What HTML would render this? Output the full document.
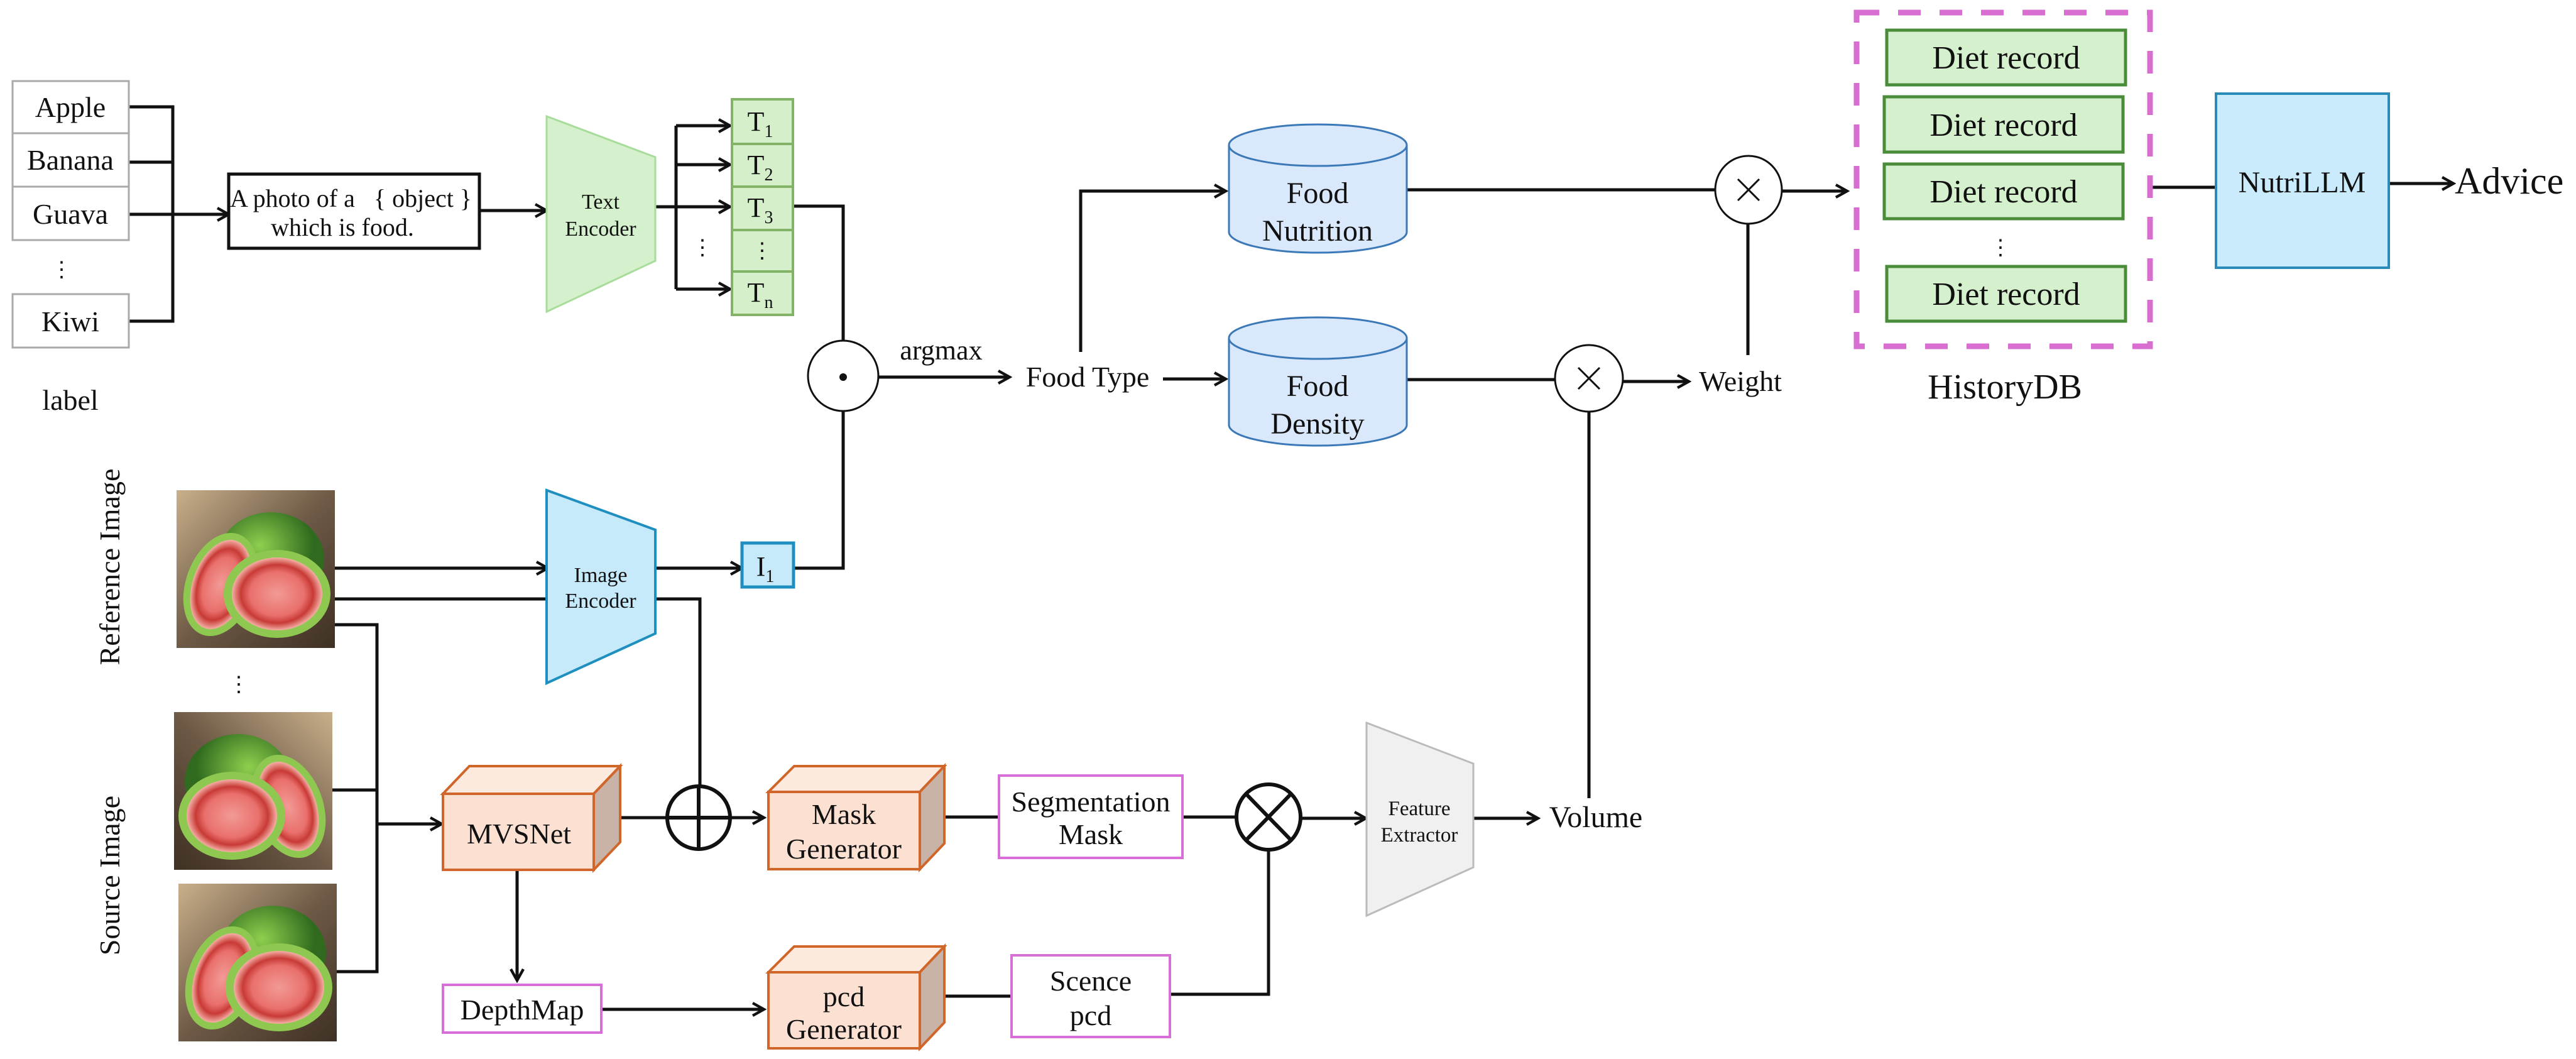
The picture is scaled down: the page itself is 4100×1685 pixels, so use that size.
<!DOCTYPE html>
<html><head><meta charset="utf-8"><style>
html,body{margin:0;padding:0;background:#fff}
svg{display:block;font-family:"Liberation Serif","DejaVu Serif",serif}
svg text{font-family:"Liberation Serif","DejaVu Serif",serif;fill:#111}
</style></head><body>
<svg width="4100" height="1685" viewBox="0 0 4100 1685" xmlns="http://www.w3.org/2000/svg" font-family="Liberation Serif, DejaVu Serif, serif">
<defs>
<marker id="a" viewBox="0 0 12 12" refX="10" refY="6" markerWidth="24" markerHeight="24" markerUnits="userSpaceOnUse" orient="auto">
<path d="M1,1 L10,6 L1,11" fill="none" stroke="#111" stroke-width="2.2"/>
</marker>
<linearGradient id="bg" x1="0" y1="0" x2="1" y2="1"><stop offset="0" stop-color="#c9b08c"/><stop offset="0.5" stop-color="#6e5a46"/><stop offset="1" stop-color="#3e3024"/></linearGradient>
<radialGradient id="pk"><stop offset="0" stop-color="#f29a96"/><stop offset="0.6" stop-color="#e9706c"/><stop offset="0.8" stop-color="#c83a36"/><stop offset="1" stop-color="#f4b0a6"/></radialGradient>
<radialGradient id="gr" cx="0.4" cy="0.35"><stop offset="0" stop-color="#8fcf4e"/><stop offset="1" stop-color="#2f6a1e"/></radialGradient>
<g id="guava">
<rect x="0" y="0" width="252" height="251" fill="url(#bg)"/>
<ellipse cx="150" cy="110" rx="85" ry="75" fill="url(#gr)"/>
<ellipse cx="70" cy="150" rx="55" ry="85" transform="rotate(20 70 150)" fill="#8fc850"/>
<ellipse cx="70" cy="150" rx="44" ry="74" transform="rotate(20 70 150)" fill="url(#pk)"/>
<ellipse cx="160" cy="165" rx="85" ry="70" fill="#8fc850"/>
<ellipse cx="160" cy="165" rx="72" ry="58" fill="url(#pk)"/>
</g>
</defs>

<g stroke="#111" stroke-width="5" fill="none">
<path d="M205,170 H275 V511 H205"/>
<path d="M205,258 H275"/>
<path d="M205,341 H364" marker-end="url(#a)"/>
<path d="M763,335 H870" marker-end="url(#a)"/>
<path d="M1043,329 H1076"/>
<path d="M1076,200 V460"/>
<path d="M1076,200 H1162" marker-end="url(#a)"/>
<path d="M1076,262 H1162" marker-end="url(#a)"/>
<path d="M1076,329 H1162" marker-end="url(#a)"/>
<path d="M1076,460 H1162" marker-end="url(#a)"/>
<path d="M1262,328 H1342 V542"/>
<path d="M1263,904 H1342 V654"/>
<path d="M1397,600 H1607" marker-end="url(#a)"/>
<path d="M1720,560 V304 H1951" marker-end="url(#a)"/>
<path d="M1851,603 H1951" marker-end="url(#a)"/>
<path d="M2239,302 H2730"/>
<path d="M2782,357 V565"/>
<path d="M2239,604 H2476"/>
<path d="M2583,607 H2688" marker-end="url(#a)"/>
<path d="M2529,655 V1270"/>
<path d="M2837,304 H2940" marker-end="url(#a)"/>
<path d="M3422,298 H3527"/>
<path d="M3802,292 H3905" marker-end="url(#a)"/>
<path d="M533,904 H872" marker-end="url(#a)"/>
<path d="M533,953 H870"/>
<path d="M1043,953 H1114 V1251"/>
<path d="M1043,904 H1181" marker-end="url(#a)"/>
<path d="M533,994 H600 V1546 H534"/>
<path d="M529,1257 H600"/>
<path d="M600,1311 H703" marker-end="url(#a)"/>
<path d="M987,1301 H1216" marker-end="url(#a)"/>
<path d="M823,1384 V1560" marker-end="url(#a)"/>
<path d="M957,1606 H1216" marker-end="url(#a)"/>
<path d="M1505,1300 H1590"/>
<path d="M1882,1300 H1968"/>
<path d="M2070,1302 H2174" marker-end="url(#a)"/>
<path d="M2345,1302 H2448" marker-end="url(#a)"/>
<path d="M1505,1585 H1610"/>
<path d="M1862,1582 H2019 V1352"/>
</g>

<g fill="#fff" stroke="#aaa" stroke-width="3">
<rect x="20" y="129" width="185" height="83"/>
<rect x="20" y="212" width="185" height="85"/>
<rect x="20" y="297" width="185" height="85"/>
<rect x="20" y="468" width="185" height="85"/>
</g>
<g font-size="46" text-anchor="middle">
<text x="112" y="186">Apple</text>
<text x="112" y="270">Banana</text>
<text x="112" y="356">Guava</text>
<text x="112" y="527">Kiwi</text>
<text x="112" y="652">label</text>
<text x="98" y="440" font-size="34">⋮</text>
</g>
<rect x="364" y="277" width="399" height="118" fill="#fff" stroke="#111" stroke-width="5"/>
<text x="366" y="329" font-size="40">A photo of a <tspan dx="20">{ object }</tspan></text>
<text x="545" y="375" font-size="40" text-anchor="middle">which is food.</text>

<polygon points="870,185 1043,250 1043,415 870,496" fill="#d5f0cc" stroke="#a8dc9a" stroke-width="3"/>
<text x="956" y="332" font-size="34" text-anchor="middle">Text</text>
<text x="956" y="375" font-size="34" text-anchor="middle">Encoder</text>
<g fill="#d5efcb" stroke="#82b366" stroke-width="4">
<rect x="1165" y="158" width="97" height="71"/>
<rect x="1165" y="229" width="97" height="68"/>
<rect x="1165" y="297" width="97" height="69"/>
<rect x="1165" y="366" width="97" height="66"/>
<rect x="1165" y="432" width="97" height="69"/>
</g>
<g font-size="44" text-anchor="middle">
<text x="1210" y="208">T<tspan font-size="28" dy="10">1</tspan></text>
<text x="1210" y="277">T<tspan font-size="28" dy="10">2</tspan></text>
<text x="1210" y="345">T<tspan font-size="28" dy="10">3</tspan></text>
<text x="1213" y="410" font-size="34">⋮</text>
<text x="1210" y="480">T<tspan font-size="28" dy="10">n</tspan></text>
<text x="1118" y="405" font-size="34">⋮</text>
</g>

<circle cx="1342" cy="598" r="56" fill="#fff" stroke="#111" stroke-width="3"/>
<circle cx="1342" cy="600" r="6" fill="#111"/>
<text x="1498" y="572" font-size="44" text-anchor="middle">argmax</text>
<text x="1731" y="615" font-size="46" text-anchor="middle">Food Type</text>

<g fill="#dae8fc" stroke="#3a78b8" stroke-width="3">
<path d="M1956,231 V369 A141.5,33 0 0 0 2239,369 V231"/>
<ellipse cx="2097.5" cy="231" rx="141.5" ry="33"/>
<path d="M1956,538 V676 A141.5,33 0 0 0 2239,676 V538"/>
<ellipse cx="2097.5" cy="538" rx="141.5" ry="33"/>
</g>
<g font-size="48" text-anchor="middle">
<text x="2097" y="323">Food</text>
<text x="2097" y="383">Nutrition</text>
<text x="2097" y="630">Food</text>
<text x="2097" y="690">Density</text>
</g>
<g fill="#fff" stroke="#111" stroke-width="3">
<ellipse cx="2783" cy="302" rx="53" ry="54"/>
<ellipse cx="2529" cy="602" rx="54" ry="53"/>
</g>
<g stroke="#111" stroke-width="3">
<path d="M2766,285 L2800,319 M2800,285 L2766,319"/>
<path d="M2512,585 L2546,619 M2546,585 L2512,619"/>
</g>
<text x="2770" y="622" font-size="46" text-anchor="middle">Weight</text>

<rect x="2955" y="20" width="467" height="531" fill="none" stroke="#d86fd0" stroke-width="9" stroke-dasharray="36,30"/>
<g fill="#d5f0cc" stroke="#4a8c3a" stroke-width="5">
<rect x="3003" y="48" width="380" height="87"/>
<rect x="2999" y="154" width="380" height="88"/>
<rect x="2999" y="261" width="380" height="87"/>
<rect x="3003" y="424" width="380" height="87"/>
</g>
<g font-size="52" text-anchor="middle">
<text x="3193" y="109">Diet record</text>
<text x="3189" y="216">Diet record</text>
<text x="3189" y="322">Diet record</text>
<text x="3184" y="405" font-size="34">⋮</text>
<text x="3193" y="485">Diet record</text>
<text x="3191" y="634" font-size="56">HistoryDB</text>
</g>
<rect x="3527" y="149" width="275" height="277" fill="#c9ebfb" stroke="#2a8ab8" stroke-width="4"/>
<text x="3664" y="306" font-size="48" text-anchor="middle">NutriLLM</text>
<text x="3907" y="308" font-size="60">Advice</text>

<use href="#guava" x="281" y="780"/>
<use href="#guava" x="279" y="1133" transform="translate(808 0) scale(-1 1)"/>
<use href="#guava" x="284" y="1406"/>
<text x="380" y="1100" font-size="34" text-anchor="middle">⋮</text>
<text font-size="46" text-anchor="middle" transform="translate(190 902) rotate(-90)">Reference Image</text>
<text font-size="46" text-anchor="middle" transform="translate(190 1393) rotate(-90)">Source Image</text>

<polygon points="870,780 1043,843 1043,1008 870,1087" fill="#c7eafa" stroke="#1f8fbf" stroke-width="4"/>
<text x="956" y="926" font-size="34" text-anchor="middle">Image</text>
<text x="956" y="967" font-size="34" text-anchor="middle">Encoder</text>
<rect x="1181" y="864" width="82" height="70" fill="#c7eafa" stroke="#1f8fbf" stroke-width="5"/>
<text x="1218" y="916" font-size="44" text-anchor="middle">I<tspan font-size="28" dy="10">1</tspan></text>

<g stroke="#d0662a" stroke-width="4">
<g>
<polygon points="705,1263 747,1219 987,1219 945,1263" fill="#fdeade"/>
<polygon points="945,1263 987,1219 987,1340 945,1384" fill="#c9b2a6"/>
<rect x="705" y="1263" width="240" height="121" fill="#fce0d2"/>
</g>
<g>
<polygon points="1223,1260 1264,1219 1503,1219 1464,1260" fill="#fdeade"/>
<polygon points="1464,1260 1503,1219 1503,1342 1464,1383" fill="#c9b2a6"/>
<rect x="1223" y="1260" width="241" height="123" fill="#fce0d2"/>
</g>
<g>
<polygon points="1223,1547 1264,1506 1503,1506 1464,1547" fill="#fdeade"/>
<polygon points="1464,1547 1503,1506 1503,1627 1464,1668" fill="#c9b2a6"/>
<rect x="1223" y="1547" width="241" height="121" fill="#fce0d2"/>
</g>
</g>
<g font-size="46" text-anchor="middle">
<text x="826" y="1342">MVSNet</text>
<text x="1343" y="1311">Mask</text>
<text x="1343" y="1366">Generator</text>
<text x="1343" y="1601">pcd</text>
<text x="1343" y="1653">Generator</text>
</g>
<circle cx="1112" cy="1301" r="50" fill="none" stroke="#111" stroke-width="6"/>
<path d="M1062,1301 H1162 M1112,1251 V1351" stroke="#111" stroke-width="6"/>

<g fill="#fff" stroke="#d86fd8" stroke-width="4">
<rect x="705" y="1567" width="252" height="76"/>
<rect x="1590" y="1234" width="292" height="131"/>
<rect x="1610" y="1520" width="252" height="130"/>
</g>
<g font-size="46" text-anchor="middle">
<text x="831" y="1622">DepthMap</text>
<text x="1736" y="1291">Segmentation</text>
<text x="1736" y="1343">Mask</text>
<text x="1736" y="1576">Scence</text>
<text x="1736" y="1631">pcd</text>
</g>
<ellipse cx="2019" cy="1300" rx="51" ry="52" fill="#fff" stroke="#111" stroke-width="6"/>
<path d="M1983,1263 L2055,1337 M2055,1263 L1983,1337" stroke="#111" stroke-width="6"/>

<polygon points="2175,1150 2345,1215 2345,1380 2175,1457" fill="#f0f0f0" stroke="#bbb" stroke-width="3"/>
<text x="2259" y="1297" font-size="33" text-anchor="middle">Feature</text>
<text x="2259" y="1339" font-size="33" text-anchor="middle">Extractor</text>
<text x="2540" y="1316" font-size="48" text-anchor="middle">Volume</text>
</svg>
</body></html>
